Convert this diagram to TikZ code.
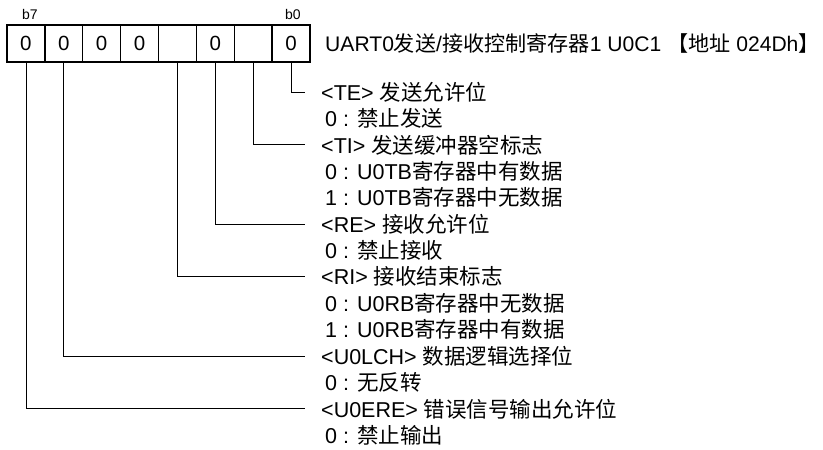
\documentclass[tikz,border=0pt]{standalone}
\usepackage{fontspec}
\setmainfont{Liberation Sans}
\newfontfamily\cjk{Noto Sans CJK SC}
\newcommand\zh[1]{{\cjk #1}}
\begin{document}
\begin{tikzpicture}[x=1pt,y=-1pt,
  cell/.style={draw,line width=1.4pt,minimum width=37.875pt,minimum height=37pt,inner sep=0pt,
    font=\fontsize{20.5}{20.5}\selectfont},
  bitlbl/.style={font=\fontsize{14}{14}\selectfont,inner sep=0pt},
  conn/.style={line width=0.8pt},
  desc/.style={anchor=west,inner xsep=16pt,inner ysep=0pt,font=\fontsize{21.5}{21.5}\selectfont},
  sub/.style={anchor=west,inner sep=0pt,font=\fontsize{21.5}{21.5}\selectfont},
  title/.style={anchor=west,inner sep=0pt,font=\fontsize{21.1}{21.1}\selectfont}]
\useasboundingbox (0,0) rectangle (823,450);
% register cells, b7 ... b0
\foreach \b/\v [count=\i from 0] in {7/0,6/0,5/0,4/0,3/{},2/0,1/{},0/0}
  \node[cell] (c\b) at ({7+37.875*(\i+0.5)},43.5) {\v};
\node[bitlbl] (lb7) at (30,14) {b7};
\node[bitlbl] (lb0) at (293,14) {b0};
\node[title] (ttl) at (325,43.5) {UART0\zh{发送}/\zh{接收控制寄存器}1 U0C1 \zh{【地址} 024Dh\zh{】}};
% descriptions
\def\ry#1{92+26.4*#1}
\node[desc] (d0) at (305,{\ry{0}}) {<TE> \zh{发送允许位}};
\node[sub] (s0a) at (325,{\ry{1}}) {0 : \zh{禁止发送}};
\node[desc] (d1) at (305,{\ry{2}}) {<TI> \zh{发送缓冲器空标志}};
\node[sub] (s1a) at (325,{\ry{3}}) {0 : U0TB\zh{寄存器中有数据}};
\node[sub] (s1b) at (325,{\ry{4}}) {1 : U0TB\zh{寄存器中无数据}};
\node[desc] (d2) at (305,{\ry{5}}) {<RE> \zh{接收允许位}};
\node[sub] (s2a) at (325,{\ry{6}}) {0 : \zh{禁止接收}};
\node[desc] (d3) at (305,{\ry{7}}) {<RI> \zh{接收结束标志}};
\node[sub] (s3a) at (325,{\ry{8}}) {0 : U0RB\zh{寄存器中无数据}};
\node[sub] (s3b) at (325,{\ry{9}}) {1 : U0RB\zh{寄存器中有数据}};
\node[desc] (d6) at (305,{\ry{10}}) {<U0LCH> \zh{数据逻辑选择位}};
\node[sub] (s6a) at (325,{\ry{11}}) {0 : \zh{无反转}};
\node[desc] (d7) at (305,{\ry{12}}) {<U0ERE> \zh{错误信号输出允许位}};
\node[sub] (s7a) at (325,{\ry{13}}) {0 : \zh{禁止输出}};
% connectors
\foreach \b in {0,1,2,3,6,7}
  \draw[conn] (c\b.south) |- (d\b.west);
\end{tikzpicture}
\end{document}
